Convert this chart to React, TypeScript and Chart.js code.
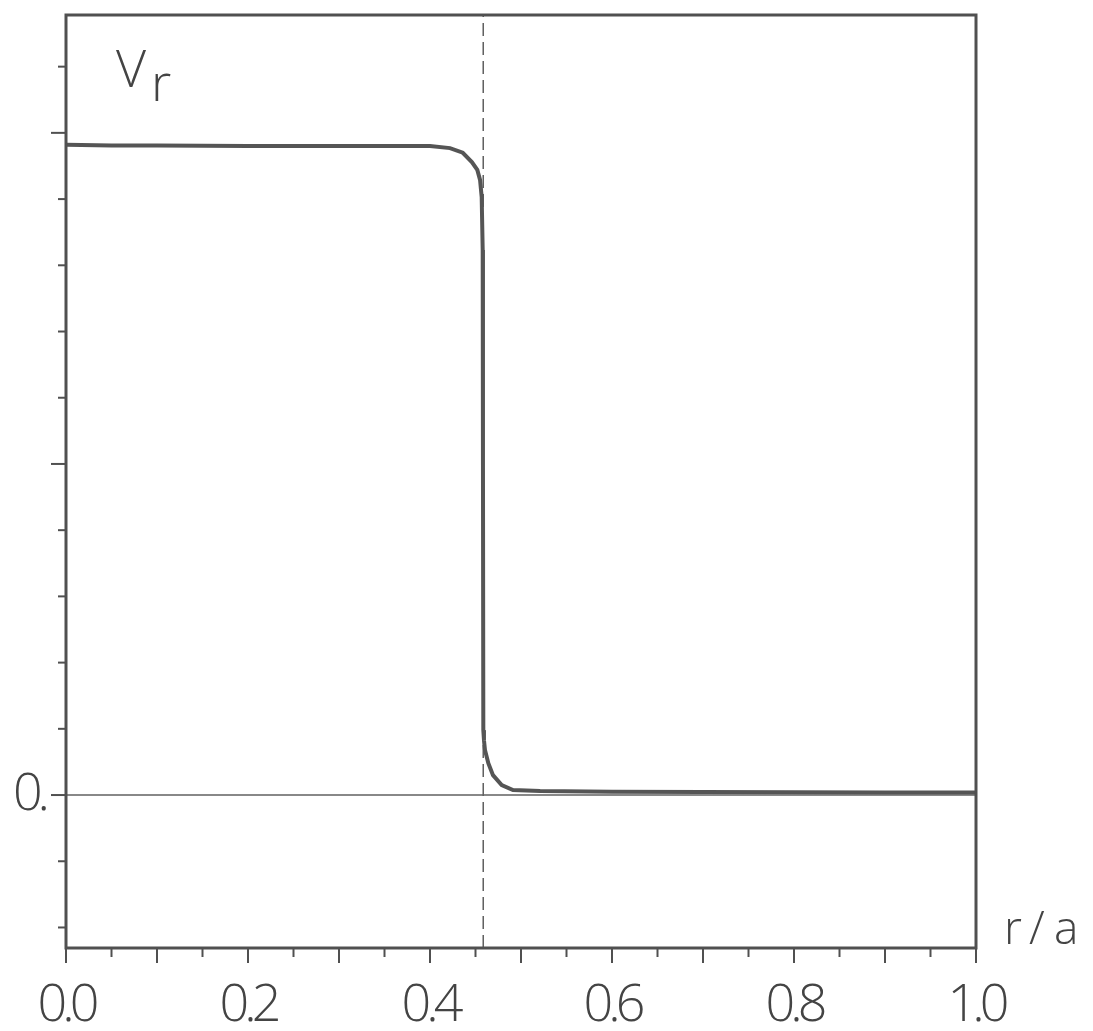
import React, { useEffect, useRef } from "react";
import { Chart, registerables } from "chart.js";

Chart.register(...registerables);

// r/a positions and V_r values
const rValues = [
  0, 0.05, 0.1, 0.2, 0.3, 0.36, 0.4, 0.422, 0.436, 0.446, 0.452, 0.455, 0.4568,
  0.4579, 0.4582, 0.4586, 0.4593, 0.4604, 0.4641, 0.4692, 0.4788, 0.4912, 0.521,
  0.6, 0.7, 0.8, 0.9, 1.0,
];
const vValues = [
  0.982, 0.981, 0.981, 0.980, 0.980, 0.980, 0.980, 0.977, 0.970, 0.956, 0.944,
  0.929, 0.903, 0.823, 0.498, 0.098, 0.083, 0.068, 0.048, 0.03, 0.015, 0.0076,
  0.006, 0.005, 0.0045, 0.0042, 0.004, 0.004,
];

const rBoundary = 0.4585;
const yMin = -0.231;
const yMax = 1.178;

const xTickValues = [0, 0.2, 0.4, 0.6, 0.8, 1.0];
const xTickLabels = ["0.0", "0.2", "0.4", "0.6", "0.8", "1.0"];
const yTickValues = [0];
const yTickLabels = ["0."];

const INK = "#505050";
const FONT = '"Open Sans", "DejaVu Sans", sans-serif';

export default function App() {
  const ref = useRef<HTMLCanvasElement>(null);

  useEffect(() => {
    if (!ref.current) return;

    const framePlugin = {
      id: "frame",
      beforeDraw(chart: any) {
        // tighter, drafting-style spacing for tick labels
        (chart.ctx as any).letterSpacing = "-5px";
      },
      afterDraw(chart: any) {
        const { ctx, chartArea: a, scales } = chart;
        const xs = scales.x;
        const ys = scales.y;
        ctx.save();
        (ctx as any).letterSpacing = "0px";
        ctx.strokeStyle = INK;
        ctx.lineCap = "butt";
        // box
        ctx.lineWidth = 3;
        ctx.strokeRect(a.left, a.top, a.right - a.left, a.bottom - a.top);
        // x ticks (outward, below)
        ctx.lineWidth = 2;
        for (let k = 0; k <= 20; k++) {
          const v = k * 0.05;
          const px = xs.getPixelForValue(v);
          const len = k % 2 === 0 ? 15 : 9;
          ctx.beginPath();
          ctx.moveTo(px, a.bottom);
          ctx.lineTo(px, a.bottom + len);
          ctx.stroke();
        }
        // y ticks (outward, left)
        for (let k = -2; k <= 11; k++) {
          const v = k * 0.1;
          const py = ys.getPixelForValue(v);
          const len = k % 5 === 0 ? 15 : 8;
          ctx.beginPath();
          ctx.moveTo(a.left, py);
          ctx.lineTo(a.left - len, py);
          ctx.stroke();
        }
        // axis titles
        ctx.fillStyle = "#444";
        ctx.textBaseline = "alphabetic";
        ctx.textAlign = "left";
        ctx.font = `300 52px ${FONT}`;
        ctx.fillText("V", 116, 87);
        ctx.fillText("r", 151, 101);
        ctx.font = `300 46px ${FONT}`;
        ctx.fillText("r", 1004, 944);
        ctx.fillText("/", 1029, 944);
        ctx.fillText("a", 1054, 944);
        ctx.restore();
      },
    };

    const chart = new Chart(ref.current, {
      type: "line",
      data: {
        datasets: [
          {
            label: "zero",
            data: [
              { x: 0, y: 0 },
              { x: 1, y: 0 },
            ],
            borderColor: "#606060",
            borderWidth: 1.5,
            pointRadius: 0,
            order: 3,
          },
          {
            label: "boundary",
            data: [
              { x: rBoundary, y: yMin },
              { x: rBoundary, y: yMax },
            ],
            borderColor: "#606060",
            borderWidth: 1.5,
            borderDash: [13, 6],
            pointRadius: 0,
            order: 2,
          },
          {
            label: "Vr",
            data: rValues.map((r, i) => ({ x: r, y: vValues[i] })),
            borderColor: "#555555",
            borderWidth: 4,
            pointRadius: 0,
            tension: 0,
            order: 1,
          },
        ],
      },
      options: {
        animation: false,
        responsive: false,
        maintainAspectRatio: false,
        layout: { padding: { top: 15, right: 117, left: 0, bottom: 0 } },
        plugins: { legend: { display: false }, tooltip: { enabled: false } },
        scales: {
          x: {
            type: "linear",
            min: 0,
            max: 1,
            grid: { display: false, drawTicks: false },
            border: { display: false },
            afterBuildTicks: (s: any) => {
              s.ticks = xTickValues.map((v) => ({ value: v }));
            },
            afterFit: (s: any) => {
              s.height = 83;
              s.paddingLeft = 0;
              s.paddingRight = 0;
            },
            ticks: {
              autoSkip: false,
              maxRotation: 0,
              padding: 27,
              color: "#444",
              font: { family: FONT, size: 52, weight: "300" as any },
              callback: (_v: any, i: number) => xTickLabels[i],
            },
          },
          y: {
            type: "linear",
            min: yMin,
            max: yMax,
            grid: { display: false, drawTicks: false },
            border: { display: false },
            afterBuildTicks: (s: any) => {
              s.ticks = yTickValues.map((v) => ({ value: v }));
            },
            afterFit: (s: any) => {
              s.width = 66;
              s.paddingTop = 0;
              s.paddingBottom = 0;
            },
            ticks: {
              autoSkip: false,
              padding: 21,
              color: "#444",
              font: { family: FONT, size: 52, weight: "300" as any },
              callback: (_v: any, i: number) => yTickLabels[i],
            },
          },
        },
      },
      plugins: [framePlugin],
    });
    return () => chart.destroy();
  }, []);

  return (
    <div style={{ position: "absolute", left: 0, top: 0, width: 1093, height: 1031, background: "#fff" }}>
      <canvas ref={ref} width={1093} height={1031} style={{ width: 1093, height: 1031 }} />
    </div>
  );
}
